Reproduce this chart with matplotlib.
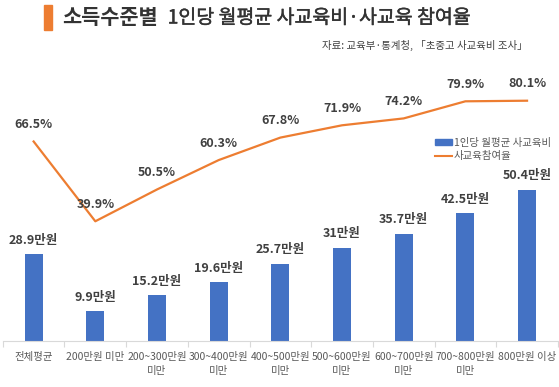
import numpy as np
import matplotlib.pyplot as plt
import matplotlib.patheffects as pe
from matplotlib.patches import Rectangle
from matplotlib.lines import Line2D
from matplotlib.patches import Patch

plt.rcParams['font.family'] = ['Noto Sans CJK KR', 'DejaVu Sans']

# data
categories = ['전체평균', '200만원 미만', '200~300만원\n미만', '300~400만원\n미만', '400~500만원\n미만',
              '500~600만원\n미만', '600~700만원\n미만', '700~800만원\n미만', '800만원 이상']
spending = [28.9, 9.9, 15.2, 19.6, 25.7, 31.0, 35.7, 42.5, 50.4]
spending_labels = ['28.9만원', '9.9만원', '15.2만원', '19.6만원', '25.7만원', '31만원', '35.7만원', '42.5만원', '50.4만원']
participation = [66.5, 39.9, 50.5, 60.3, 67.8, 71.9, 74.2, 79.9, 80.1]

blue = '#4472C4'
orange = '#ED7D31'
txt = '#404040'

fig = plt.figure(figsize=(5.59, 3.87), dpi=100)
ax = fig.add_axes([0.005, 0.119, 0.993, 0.775])
x = np.arange(len(categories))

ax.bar(x, spending, width=0.29, color=blue, zorder=2)
ax.set_ylim(0, 100)
ax.set_xlim(-0.5, len(categories) - 0.5)

ax2 = ax.twinx()
ax2.plot(x, participation, color=orange, lw=1.6, zorder=3)
ax2.set_ylim(0, 100)

for a in (ax, ax2):
    for s in a.spines.values():
        s.set_visible(False)
    a.set_yticks([])

ax.spines['bottom'].set_visible(True)
ax.spines['bottom'].set_color('#d9d9d9')
ax.set_xticks(np.arange(-0.5, len(categories), 1))
ax.set_xticklabels([])
ax.tick_params(axis='x', length=4, color='#d9d9d9')
for i, c in enumerate(categories):
    ax.text(i, -3.8, c, ha='center', va='top', fontsize=7.5, color='#595959', linespacing=1.5)

for i, (v, lab) in enumerate(zip(spending, spending_labels)):
    ax.text(i, v + 2.5, lab, ha='center', va='bottom', fontsize=9, fontweight='bold', color=txt)

for i, v in enumerate(participation):
    ax2.text(i, v + 3.5, f'{v}%', ha='center', va='bottom', fontsize=9, fontweight='bold', color=txt)

handles = [Patch(color=blue), Line2D([0], [0], color=orange, lw=1.5)]
ax2.legend(handles, ['1인당 월평균 사교육비', '사교육참여율'], loc='upper left',
           bbox_to_anchor=(0.769, 0.695), frameon=False, fontsize=7.5, labelcolor='#595959',
           handlelength=1.6, handleheight=0.6, handletextpad=0.2, labelspacing=0.35, borderpad=0)

# title
fig.patches.append(Rectangle((44 / 559, 1 - 30 / 387), 8 / 559, 25 / 387, transform=fig.transFigure,
                             color=orange, zorder=5))
t1 = fig.text(62 / 559, 1 - 18 / 387, '소득수준별', fontsize=15, fontweight='bold', color='#333333', va='center')
fig.canvas.draw()
bb = t1.get_window_extent()
fig.text((bb.x1 + 10) / 559, 1 - 18 / 387, '1인당 월평균 사교육비·사교육 참여율', fontsize=14,
         color='#333333', va='center',
         path_effects=[pe.withStroke(linewidth=0.3, foreground='#333333')])
fig.text(528 / 559, 1 - 45 / 387, '자료: 교육부·통계청, 「초중고 사교육비 조사」', fontsize=7.5,
         color='#404040', ha='right', va='center')

fig.savefig('out.png', dpi=100)
